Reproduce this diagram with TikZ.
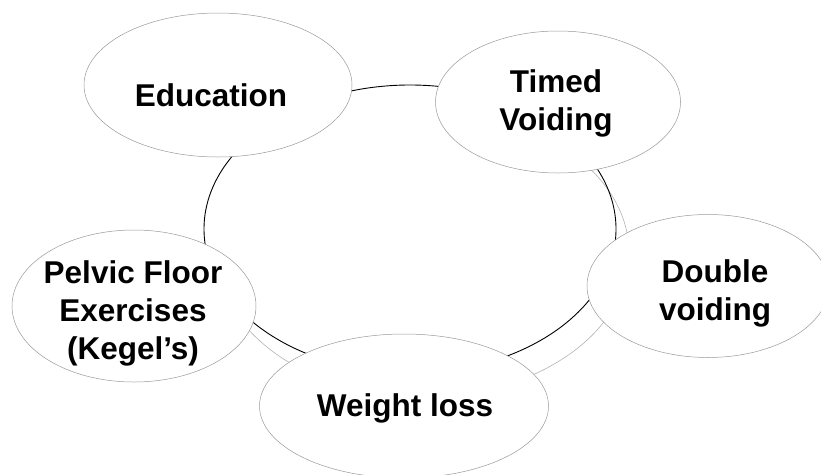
\documentclass[tikz,border=0pt]{standalone}
\usepackage{fontspec}
\setmainfont{Liberation Sans}
\usetikzlibrary{shapes.geometric}
\begin{document}
\begin{tikzpicture}[x=1pt,y=-1pt,
  bubble/.style={ellipse, draw=black!40, line width=0.5pt, fill=white, inner sep=0pt},
  lbl/.style={anchor=base, align=center, inner sep=0pt, font=\fontsize{31.5}{38}\selectfont\bfseries},
  ringline/.style={ellipse, draw=black, line width=0.9pt, inner sep=0pt, minimum width=412pt, minimum height=288pt},
  shadowline/.style={ellipse, draw=black!30, line width=0.6pt, inner sep=0pt, minimum width=412pt, minimum height=288pt}]
\useasboundingbox (0,0) rectangle (821,474);
\begin{scope}
  \clip (0,250) -- (560,250) -- (560,0) -- (821,0) -- (821,474) -- (0,474) -- cycle;
  \node[shadowline] (shadow) at (423,253) {};
\end{scope}
\node[ringline] (ring) at (410,229) {};
\node[bubble, minimum width=268pt, minimum height=144pt] (edu) at (218,85) {};
\node[bubble, minimum width=245pt, minimum height=142pt] (timed) at (558,102) {};
\node[bubble, minimum width=242pt, minimum height=143pt] (double) at (708,286) {};
\node[bubble, minimum width=244pt, minimum height=152pt] (pelvic) at (134,306) {};
\node[bubble, minimum width=289pt, minimum height=144pt] (weight) at (404,406) {};
\node[lbl] (tedu) at (211,106) {Education};
\node[lbl] (ttimed) at (556,130) {Timed\\Voiding};
\node[lbl] (tdouble) at (715,320) {Double\\voiding};
\node[lbl] (tpelvic) at (133,359) {Pelvic Floor\\Exercises\\(Kegel’s)};
\node[lbl] (tweight) at (405,416.7) {Weight loss};
\end{tikzpicture}
\end{document}
